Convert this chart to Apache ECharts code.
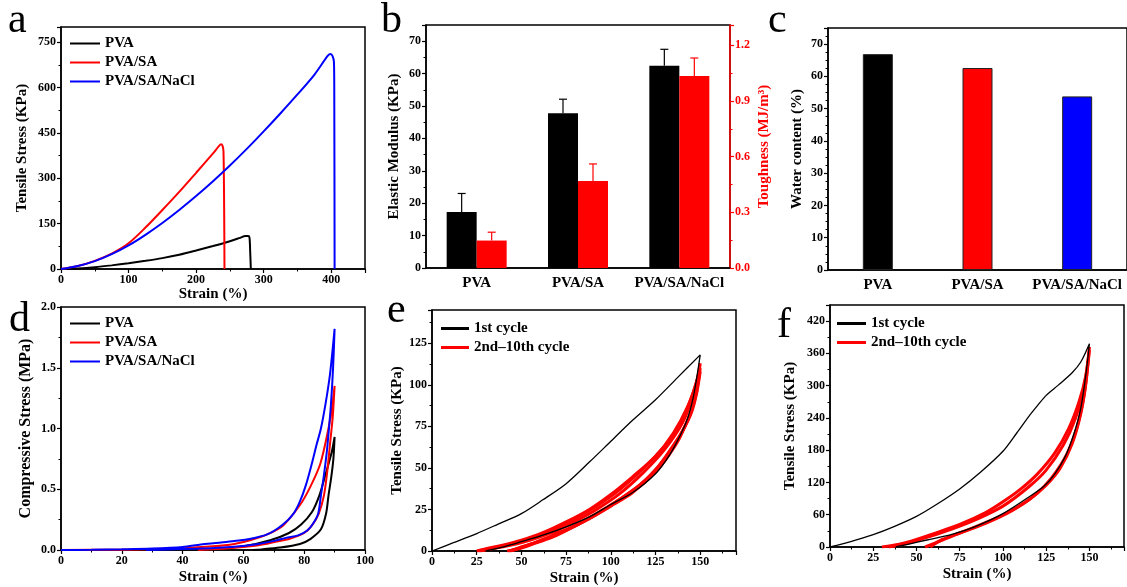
<!DOCTYPE html>
<html>
<head>
<meta charset="utf-8">
<script src="https://cdn.jsdelivr.net/npm/echarts@6/dist/echarts.min.js"></script>
<style>
  html, body { margin: 0; padding: 0; background: #fff; }
  #main { width: 1127px; height: 587px; }
</style>
</head>
<body>
<div id="main"></div>
<script>
// ---- data ----
// a: tensile stress-strain, [strain %, stress KPa]
var aPVA = [[0,0],[25,2],[50,6],[75,12],[100,19],[125,27],[150,36],[175,47],[200,61],[225,76],[250,92],[265,103],[273,109],[277,109],[279,104],[280,60],[281,0]];
var aPVASA = [[0,0],[25,10],[50,27],[75,51],[100,85],[125,137],[150,195],[175,255],[200,318],[225,382],[234,407],[237,412],[239,408],[240.5,390],[241.5,200],[242,0]];
var aPVASANaCl = [[0,0],[25,10],[50,26],[75,49],[100,78],[125,113],[150,152],[175,195],[200,241],[225,290],[250,342],[275,397],[300,455],[325,515],[350,577],[375,642],[395,705],[399,711],[402,704],[404,685],[404.5,600],[405,0]];

// b: elastic modulus (KPa) and toughness (MJ/m3) with upper error
var bCategories = ['PVA', 'PVA/SA', 'PVA/SA/NaCl'];
var bModulus = [17.3, 47.8, 62.4];
var bModulusErr = [23.0, 52.1, 67.5];
var bToughness = [0.148, 0.469, 1.035];
var bToughnessErr = [0.193, 0.561, 1.132];

// c: water content (%)
var cCategories = ['PVA', 'PVA/SA', 'PVA/SA/NaCl'];
var cWater = [66.9, 62.6, 53.8];
var cColors = ['#000000', '#ff0000', '#0000ff'];

// d: compressive loops, [strain %, stress MPa]
var dPVA = [[0,0],[30,0.002],[50,0.01],[60,0.03],[68.8,0.08],[75,0.14],[79,0.21],[82.5,0.31],[85,0.45],[87,0.62],[89,0.8],[90,0.93],
            [89.6,0.75],[88.9,0.6],[88,0.45],[87.2,0.3],[85.5,0.17],[82,0.09],[78.6,0.05],[72,0.02],[66,0.005],[63,0]];
var dPVASA = [[0,0],[20,0.003],[40,0.015],[50,0.03],[57,0.05],[62.2,0.08],[68,0.13],[73,0.2],[78.6,0.37],[82,0.52],[85.3,0.71],[87.9,0.99],[89.2,1.18],[90,1.35],
              [89.4,1.1],[88.6,0.9],[87.6,0.65],[86.5,0.45],[84.8,0.3],[82.5,0.2],[80,0.14],[75,0.09],[71,0.07],[65,0.04],[55,0.015],[45,0]];
var dPVASANaCl = [[0,0],[10,0.002],[20,0.006],[30,0.012],[40,0.025],[46,0.045],[52,0.06],[57,0.075],[62,0.09],[68,0.13],[73,0.21],[76.5,0.3],[78.6,0.4],[80.5,0.53],[82.5,0.71],[84,0.86],[85.5,1.0],[87,1.2],[88.5,1.45],[90,1.82],
                  [89.5,1.5],[88.8,1.2],[88,0.96],[87.4,0.8],[86.4,0.6],[85.5,0.45],[84.6,0.3],[83,0.22],[81,0.16],[78,0.12],[74,0.1],[71,0.08],[65,0.05],[56,0.025],[46,0.012],[35,0.004],[28,0]];

// e: cyclic tensile, [strain %, stress KPa]
var e1st = [[0,0],[12,5],[25,10.5],[37,16.2],[50,22.5],[62,30.8],[75,40.5],[88,53.5],[100,66],[112,78.5],[125,91],[137,104],[150,118],
            [148,104],[146,92],[143,80],[139,70],[133,58],[125,46.5],[112,35],[100,28],[88,20.5],[75,14.5],[62,9.5],[50,5.6],[40,2.5],[30,0]];
var eCycA = [[25,0],[32,1.8],[40,3.6],[50,6.5],[62,11],[75,17.5],[88,25],[100,34],[112,44.5],[125,57],[135,71],[143,87],[148,102],[150,113],
             [148,98],[146,88],[143,79],[138,67],[132,57],[125,47.5],[112,35],[100,27],[88,19.5],[75,12.5],[62,6.5],[50,2.5],[44,0]];
var eCycB = [[27,0],[35,1.8],[45,4.4],[55,7.5],[68,12.8],[80,19.5],[92,27],[105,37],[118,49.5],[130,63],[140,79],[146,95],[150,110],
             [148,96],[145,84],[141,74],[135,63],[127,51.5],[117,40.5],[105,31],[92,22],[80,15],[68,8.6],[56,4],[48,1.2],[42,0]];
var eCycC = [[26,0],[35,1.6],[45,3.8],[55,6.6],[68,11.5],[80,17.8],[92,25],[105,34.5],[118,47],[130,61],[140,77],[146,93],[150,108],
             [148,95],[145,83],[140,72],[134,62],[126,50],[116,39.5],[104,30.5],[92,22.5],[80,15.5],[68,9.5],[56,4.5],[48,1.5],[43,0]];

// f: cyclic tensile, [strain %, stress KPa]
var f1st = [[0,0],[12,10],[25,23],[37,38],[50,57],[62,80],[75,108],[87,139],[100,178],[108,212],[115,243],[120,263],[125,282],[132,301],[140,324],[145,344],[150,378],
            [148,322],[145,258],[141,210],[136,168],[130,136],[124,114],[115,93],[100,62],[84,38],[70,23],[56,13],[45,5],[38,0]];
var fCycA = [[30,0],[40,5],[50,14],[60,25],[75,42],[90,64],[100,84],[110,107],[120,136],[130,175],[138,220],[144,270],[148,320],[150,372],
             [148,305],[145,248],[140,192],[133,146],[125,115],[115,88],[100,60],[85,39],[75,26],[65,14],[58,0]];
var fCycB = [[34,0],[45,7],[55,17],[70,33],[85,52],[100,76],[115,112],[125,143],[135,190],[142,240],[147,300],[150,366],
             [147,285],[143,225],[137,173],[128,128],[118,95],[105,67],[90,44],[75,26],[65,13],[55,0]];

// ---- helpers ----
var FONT = 'Liberation Serif';
function tickFmt(step, digits) {
  return function (v) {
    var r = v / step;
    return Math.abs(r - Math.round(r)) < 1e-6 ? v.toFixed(digits) : '';
  };
}
function valAxis(gridIndex, min, max, step, digits, minor, name, nameGap, color, nameSize) {
  color = color || '#000';
  return {
    type: 'value', gridIndex: gridIndex, min: min, max: max, interval: step,
    name: name, nameLocation: 'middle', nameGap: nameGap,
    nameTextStyle: { fontFamily: FONT, fontWeight: 'bold', fontSize: nameSize || 15, color: color },
    axisLine: { show: true, onZero: false, lineStyle: { color: color, width: 1.5 } },
    axisTick: { show: true, length: 4, lineStyle: { color: color, width: 1.2 } },
    minorTick: { show: true, splitNumber: minor, length: 2.5, lineStyle: { color: color, width: 1 } },
    axisLabel: { color: color, fontFamily: FONT, fontWeight: 'bold', fontSize: 12, margin: 5, formatter: tickFmt(step, digits) },
    splitLine: { show: false }
  };
}
function catAxis(gridIndex, cats) {
  return {
    type: 'category', gridIndex: gridIndex, data: cats,
    axisLine: { show: true, lineStyle: { color: '#000', width: 1.5 } },
    axisTick: { show: false },
    axisLabel: { color: '#000', fontFamily: FONT, fontWeight: 'bold', fontSize: 15, margin: 8, interval: 0 },
    splitLine: { show: false }
  };
}
function curve(name, data, color, xi, yi, width, z) {
  return {
    name: name, type: 'line', xAxisIndex: xi, yAxisIndex: yi, data: data,
    showSymbol: false, smooth: 0.3, color: color, z: z || 2,
    lineStyle: { color: color, width: width }, animation: false
  };
}
function errBar(offset, color) {
  return function (params, api) {
    var p0 = api.coord([api.value(0), api.value(1)]);
    var p1 = api.coord([api.value(0), api.value(2)]);
    var x = p0[0] + offset;
    return {
      type: 'group',
      children: [
        { type: 'line', shape: { x1: x, y1: p0[1], x2: x, y2: p1[1] }, style: { stroke: color, lineWidth: 1.2 } },
        { type: 'line', shape: { x1: x - 4, y1: p1[1], x2: x + 4, y2: p1[1] }, style: { stroke: color, lineWidth: 1.2 } }
      ]
    };
  };
}
function legend(names, left, top, w, thick) {
  return {
    data: names, orient: 'vertical', left: left, top: top, padding: 0,
    icon: 'rect', itemWidth: w, itemHeight: thick || 2, itemGap: 4,
    textStyle: { fontFamily: FONT, fontWeight: 'bold', fontSize: 15, color: '#000' },
    selectedMode: false
  };
}
function letter(t, x, y) {
  return { type: 'text', x: x, y: y, style: { text: t, font: '42px "Liberation Serif"', fill: '#000', textVerticalAlign: 'bottom' } };
}

var grids = [
  { left: 61, top: 27, width: 304, height: 242 },   // a
  { left: 426, top: 25, width: 304, height: 243 },  // b
  { left: 828, top: 28, width: 303, height: 242 },  // c
  { left: 61, top: 307, width: 304, height: 243 },  // d
  { left: 432, top: 310, width: 304, height: 243 }, // e
  { left: 830, top: 305, width: 304, height: 242 }  // f
].map(function (g) {
  return Object.assign({ show: true, borderColor: '#000', borderWidth: 1.5, backgroundColor: 'transparent', containLabel: false }, g);
});

var xAxes = [
  valAxis(0, 0, 450, 100, 0, 2, 'Strain (%)', 18),
  catAxis(1, bCategories),
  catAxis(2, cCategories),
  valAxis(3, 0, 100, 20, 0, 2, 'Strain (%)', 20),
  valAxis(4, 0, 170, 25, 0, 2, 'Strain (%)', 20),
  valAxis(5, 0, 170, 25, 0, 2, 'Strain (%)', 20)
];
var yAxes = [
  valAxis(0, 0, 800, 150, 0, 2, 'Tensile Stress (KPa)', 31),
  valAxis(1, 0, 75, 10, 0, 2, 'Elastic Modulus (KPa)', 24),
  Object.assign(valAxis(1, 0, 1.31, 0.3, 1, 2, 'Toughness (MJ/m³)', 27, '#ff0000'), { position: 'right', nameRotate: 90 }),
  valAxis(2, 0, 75, 10, 0, 4, 'Water content (%)', 23),
  valAxis(3, 0, 2, 0.5, 1, 2, 'Compressive Stress (MPa)', 27, null, 16),
  valAxis(4, 0, 145, 25, 0, 2, 'Tensile Stress (KPa)', 27),
  valAxis(5, 0, 450, 60, 0, 2, 'Tensile Stress (KPa)', 32)
];

var series = [
  // a
  curve('PVA', aPVA, '#000000', 0, 0, 2),
  curve('PVA/SA', aPVASA, '#ff0000', 0, 0, 2),
  curve('PVA/SA/NaCl', aPVASANaCl, '#0000ff', 0, 0, 2),
  // b
  { name: 'Elastic Modulus', type: 'bar', xAxisIndex: 1, yAxisIndex: 1, data: bModulus, barWidth: 30, barGap: '0%', itemStyle: { color: '#000' }, animation: false },
  { name: 'Toughness', type: 'bar', xAxisIndex: 1, yAxisIndex: 2, data: bToughness, barWidth: 30, barGap: '0%', itemStyle: { color: '#ff0000' }, animation: false },
  { type: 'custom', xAxisIndex: 1, yAxisIndex: 1, renderItem: errBar(-15, '#000'),
    data: bModulus.map(function (v, i) { return [i, v, bModulusErr[i]]; }), z: 3, animation: false },
  { type: 'custom', xAxisIndex: 1, yAxisIndex: 2, renderItem: errBar(15, '#ff0000'),
    data: bToughness.map(function (v, i) { return [i, v, bToughnessErr[i]]; }), z: 3, animation: false },
  // c
  { name: 'Water content', type: 'bar', xAxisIndex: 2, yAxisIndex: 3, barWidth: 30, animation: false,
    data: cWater.map(function (v, i) { return { value: v, itemStyle: { color: cColors[i], borderColor: '#222', borderWidth: 1 } }; }) },
  // d
  curve('PVA', dPVA, '#000000', 3, 4, 2),
  curve('PVA/SA', dPVASA, '#ff0000', 3, 4, 2),
  curve('PVA/SA/NaCl', dPVASANaCl, '#0000ff', 3, 4, 2),
  // e
  curve('2nd–10th cycle', eCycA, '#ff0000', 4, 5, 3),
  curve('2nd–10th cycle', eCycB, '#ff0000', 4, 5, 3),
  curve('2nd–10th cycle', eCycC, '#ff0000', 4, 5, 3),
  curve('1st cycle', e1st, '#000000', 4, 5, 1.3, 4),
  // f
  curve('2nd–10th cycle', fCycA, '#ff0000', 5, 6, 3),
  curve('2nd–10th cycle', fCycB, '#ff0000', 5, 6, 3),
  curve('1st cycle', f1st, '#000000', 5, 6, 1.3, 4)
];

var chart = echarts.init(document.getElementById('main'));
chart.setOption({
  animation: false,
  grid: grids,
  xAxis: xAxes,
  yAxis: yAxes,
  legend: [
    legend(['PVA', 'PVA/SA', 'PVA/SA/NaCl'], 70, 36, 30),
    legend(['PVA', 'PVA/SA', 'PVA/SA/NaCl'], 70, 316, 30),
    legend(['1st cycle', '2nd–10th cycle'], 441, 321, 28, 3),
    legend(['1st cycle', '2nd–10th cycle'], 837, 316, 29, 3)
  ],
  graphic: [
    letter('a', 8, 42),
    letter('b', 381, 42),
    letter('c', 768, 42),
    letter('d', 9, 341),
    letter('e', 387, 332),
    letter('f', 777, 347)
  ],
  series: series
});
</script>
</body>
</html>
